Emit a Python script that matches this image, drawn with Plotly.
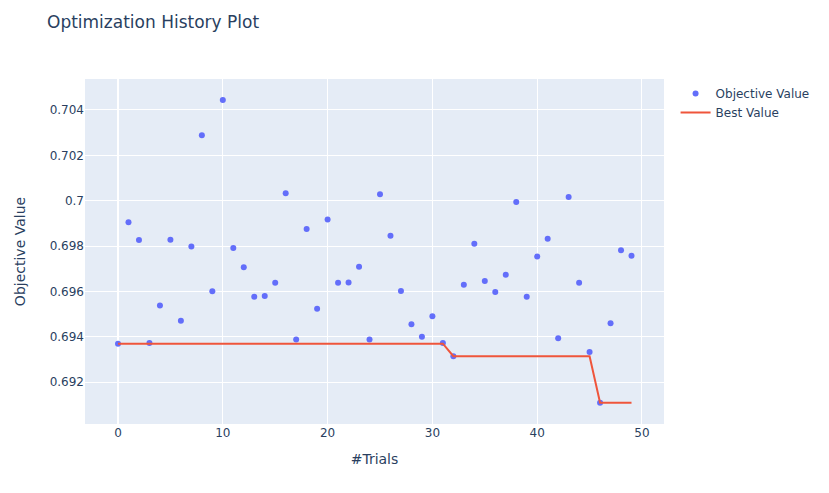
import plotly.graph_objects as go

trials = list(range(50))
objective_values = [
    0.69370, 0.69905, 0.69827, 0.69373, 0.69538, 0.69828, 0.69471, 0.69798, 0.70289, 0.69601,
    0.70444, 0.69792, 0.69707, 0.69577, 0.69580, 0.69639, 0.70033, 0.69389, 0.69876, 0.69524,
    0.69917, 0.69639, 0.69640, 0.69709, 0.69389, 0.70029, 0.69846, 0.69602, 0.69456, 0.69401,
    0.69491, 0.69373, 0.69315, 0.69630, 0.69811, 0.69646, 0.69598, 0.69674, 0.69995, 0.69577,
    0.69754, 0.69833, 0.69394, 0.70017, 0.69639, 0.69333, 0.69110, 0.69460, 0.69782, 0.69758,
]
best_values = []
cur = None
for v in objective_values:
    cur = v if cur is None else min(cur, v)
    best_values.append(cur)

fig = go.Figure()
fig.add_trace(go.Scatter(x=trials, y=objective_values, mode="markers", name="Objective Value",
                         marker=dict(color="#636efa", size=6)))
fig.add_trace(go.Scatter(x=trials, y=best_values, mode="lines", name="Best Value",
                         line=dict(color="#EF553B", width=2)))

fig.update_layout(
    width=829, height=493,
    template="plotly",
    font=dict(family="DejaVu Sans"),
    title=dict(text="Optimization History Plot", x=39/829, xanchor="left",
               y=1 - 14/493, yanchor="middle", font=dict(size=17)),
    margin=dict(l=77, r=173, t=71, b=77),
    xaxis=dict(title=dict(text="#Trials"), range=[-3.15, 52.1], tickvals=[0, 10, 20, 30, 40, 50],
               automargin=False),
    yaxis=dict(title=dict(text="Objective Value", standoff=20), range=[0.690161, 0.705366],
               tickvals=[0.692, 0.694, 0.696, 0.698, 0.700, 0.702, 0.704],
               ticktext=["0.692", "0.694", "0.696", "0.698", "0.7", "0.702", "0.704"],
               automargin=False),
    showlegend=True,
)
fig.write_html("out.html")
